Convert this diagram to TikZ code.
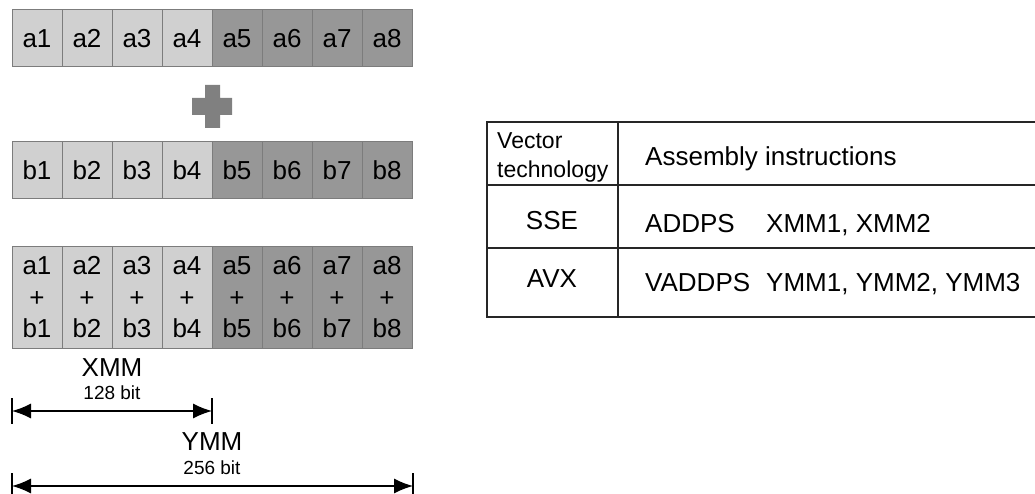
\documentclass[tikz,border=0pt]{standalone}
\usepackage{fontspec}
\setmainfont{Liberation Sans}
\usetikzlibrary{arrows.meta}
\usetikzlibrary{positioning}
\definecolor{lightcell}{HTML}{D0D0D0}
\definecolor{darkcell}{HTML}{979797}
\definecolor{cellline}{HTML}{7C7C7C}
\definecolor{plusgray}{HTML}{808080}
\tikzstyle{cell} = [rectangle, 
minimum width=50pt, 
minimum height=57pt,
inner sep=0pt,
draw=cellline, 
line width=1pt,
font=\fontsize{26}{31.5}\selectfont]
\tikzstyle{lowcell} = [cell, fill=lightcell]
\tikzstyle{highcell} = [cell, fill=darkcell]
\tikzstyle{sumcell} = [minimum height=101pt, align=center]
\tikzstyle{regname} = [inner sep=0pt, font=\fontsize{26}{28}\selectfont]
\tikzstyle{bitsize} = [inner sep=0pt, font=\fontsize{19}{20}\selectfont]
\tikzstyle{span} = [draw, line width=1.3pt, {Latex[length=19pt,width=15pt]}-{Latex[length=19pt,width=15pt]}]
\tikzstyle{tick} = [draw, line width=1.3pt]
\tikzstyle{tableline} = [draw=black!85, line width=1.3pt]
\tikzstyle{tabletext} = [inner sep=0pt, font=\fontsize{26}{28}\selectfont]
\tikzstyle{headtext} = [inner sep=0pt, align=left, font=\fontsize{23}{29}\selectfont]
\begin{document}
\begin{tikzpicture}[x=1pt,y=-1pt]
\useasboundingbox (0,0) rectangle (1035,494);

% registers
\foreach \i in {1,...,4} {
  \node [lowcell] (a\i) at (\i*50-13,38.5) {a\i};
  \node [lowcell] (b\i) at (\i*50-13,170.5) {b\i};
  \node [lowcell, sumcell] (s\i) at (\i*50-13,297.5) {a\i\\+\\b\i};
}
\foreach \i in {5,...,8} {
  \node [highcell] (a\i) at (\i*50-13,38.5) {a\i};
  \node [highcell] (b\i) at (\i*50-13,170.5) {b\i};
  \node [highcell, sumcell] (s\i) at (\i*50-13,297.5) {a\i\\+\\b\i};
}

% plus sign
\fill [plusgray] (192,98) rectangle (232,115) (205,85) rectangle (220,128);

% widths
\node [regname] (xmm) at (112,368) {XMM};
\node [bitsize] (xbits) at (112,393) {128 bit};
\node [regname] (ymm) at (212,442) {YMM};
\node [bitsize] (ybits) at (212,468) {256 bit};
\coordinate (xl) at (12,411);
\coordinate (xr) at (212,411);
\coordinate (yl) at (12,486);
\coordinate (yr) at (413,486);
\path [span] (xl) -- (xr);
\path [span] (yl) -- (yr);
\path [tick] (xl) ++(0,-13) -- ++(0,26);
\path [tick] (xr) ++(0,-13) -- ++(0,26);
\path [tick] (yl) ++(0,-13) -- ++(0,26);
\path [tick] (yr) ++(0,-13) -- ++(0,26);

% table
\path [tableline] (1035,122) -- (487,122) -- (487,317) -- (1035,317);
\path [tableline] (487,185) -- (1035,185);
\path [tableline] (487,248) -- (1035,248);
\path [tableline] (618,122) -- (618,317);
\node [headtext, anchor=west] (vec) at (497,157) {Vector\\technology};
\node [tabletext, anchor=base west] (asm) at (645,166) {Assembly instructions};
\node [tabletext, anchor=base] (sse) at (552,229.5) {SSE};
\node [tabletext, anchor=base west] (addps) at (645,232.5) {ADDPS};
\node [tabletext, anchor=base west] (xops) at (766,232.5) {XMM1, XMM2};
\node [tabletext, anchor=base] (avx) at (552,287.5) {AVX};
\node [tabletext, anchor=base west] (vaddps) at (645,291.5) {VADDPS};
\node [tabletext, anchor=base west] (yops) at (766,291.5) {YMM1, YMM2, YMM3};

\end{tikzpicture}
\end{document}
